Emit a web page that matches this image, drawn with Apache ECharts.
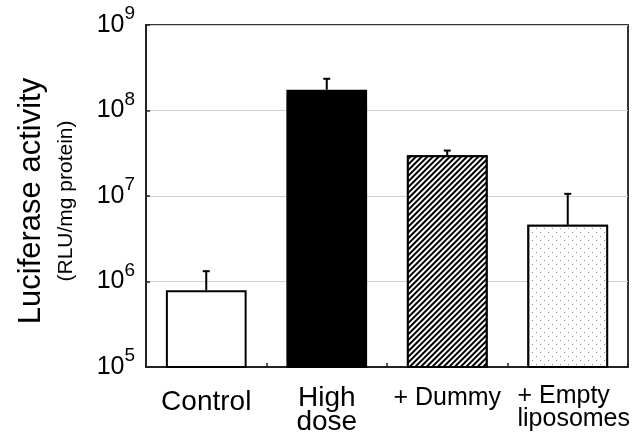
<!DOCTYPE html>
<html><head><meta charset="utf-8">
<script src="https://cdn.jsdelivr.net/npm/echarts@6/dist/echarts.min.js"></script>
<style>html,body{margin:0;padding:0;background:#fff}#c{width:643px;height:443px}</style>
</head><body><div id="c"></div>
<script>
// ---- data ----
const categories = ['Control', 'High\ndose', '+ Dummy', '+ Empty\nliposomes'];
const means = [7.9e5, 1.75e8, 3.0e7, 4.6e6];
const errorTops = [1.32e6, 2.35e8, 3.4e7, 1.06e7];
const yTickExponents = [5, 6, 7, 8, 9];
const yTitle = 'Luciferase activity';
const ySubtitle = '(RLU/mg protein)';

// ---- styles ----
const FONT = "'Liberation Sans', Arial, Helvetica, sans-serif";
const barStyles = [
  { color: '#fff', borderColor: '#000', borderWidth: 2 },
  { color: '#000', borderColor: '#000', borderWidth: 2 },
  { color: '#fff', borderColor: '#000', borderWidth: 2,
    decal: { symbol: 'rect', symbolSize: 1, color: '#000', backgroundColor: '#fff',
             dashArrayX: [1, 0], dashArrayY: [2, 2], rotation: -Math.PI / 4 } },
  { color: '#fff', borderColor: '#000', borderWidth: 2,
    decal: { symbol: 'rect', symbolSize: 1, color: '#8f8f8f', backgroundColor: '#fff',
             dashArrayX: [[1, 7], [0, 4, 1, 3]], dashArrayY: [1, 3], rotation: 0 } }
];
const labelStyleNames = [['c'], ['h1', 'h2'], ['d'], ['e1', 'e2']];

const chart = echarts.init(document.getElementById('c'), null, { renderer: 'canvas' });
chart.setOption({
  animation: false,
  backgroundColor: '#fff',
  textStyle: { fontFamily: FONT },
  grid: { left: 146, right: 15, top: 25, bottom: 76, show: true, borderColor: '#333', borderWidth: 2 },
  xAxis: {
    type: 'category',
    data: categories,
    axisLine: { lineStyle: { color: '#222', width: 2 } },
    axisTick: { show: true, inside: true, length: 4, lineStyle: { color: '#222', width: 1.5 } },
    axisLabel: {
      interval: 0, margin: 12, color: '#000', fontFamily: FONT,
      formatter: function (v, i) {
        const lines = v.split('\n');
        return lines.map((l, k) => '{' + labelStyleNames[i][k] + '|' + l + '}').join('\n');
      },
      rich: {
        c: { fontSize: 28, lineHeight: 46, fontFamily: FONT, color: '#000' },
        h1: { fontSize: 28, lineHeight: 39, fontFamily: FONT, color: '#000' },
        h2: { fontSize: 28, lineHeight: 9, fontFamily: FONT, color: '#000' },
        d: { fontSize: 25, lineHeight: 39, fontFamily: FONT, color: '#000' },
        e1: { fontSize: 25, lineHeight: 34, fontFamily: FONT, color: '#000', align: 'left', padding: [0, 0, 0, 12] },
        e2: { fontSize: 25, lineHeight: 13, fontFamily: FONT, color: '#000', align: 'left', padding: [0, 0, 0, 12] }
      }
    },
    splitLine: { show: false }
  },
  yAxis: {
    type: 'log',
    logBase: 10,
    min: Math.pow(10, yTickExponents[0]),
    max: Math.pow(10, yTickExponents[yTickExponents.length - 1]),
    splitNumber: 4,
    name: '{t|' + yTitle + '}\n{u|' + ySubtitle + '}',
    nameLocation: 'middle',
    nameGap: 63,
    nameTextStyle: {
      padding: [0, 10, 0, 0],
      rich: {
        t: { fontSize: 31, lineHeight: 36, fontFamily: FONT, color: '#000' },
        u: { fontSize: 21, lineHeight: 34, fontFamily: FONT, color: '#000' }
      }
    },
    axisLine: { show: true, lineStyle: { color: '#222', width: 2 } },
    axisTick: { show: true, inside: true, length: 4, lineStyle: { color: '#222', width: 1.5 } },
    splitLine: { show: true, lineStyle: { color: '#cfcfcf', width: 1 } },
    axisLabel: {
      margin: 11,
      formatter: function (v) {
        const e = Math.round(Math.log10(v));
        return '{b|10}{s|' + e + '}';
      },
      rich: {
        b: { fontSize: 25, lineHeight: 41, fontFamily: FONT, color: '#000' },
        s: { fontSize: 19, lineHeight: 19, verticalAlign: 'top', fontFamily: FONT, color: '#000' }
      }
    }
  },
  series: [
    {
      type: 'bar',
      barWidth: '67%',
      clip: true,
      data: means.map((v, i) => ({ value: v, itemStyle: barStyles[i] })),
      z: 2
    },
    {
      type: 'custom',
      z: 3,
      data: categories.map((c, i) => [i, means[i], errorTops[i]]),
      renderItem: function (params, api) {
        const base = api.coord([api.value(0), api.value(1)]);
        const top = api.coord([api.value(0), api.value(2)]);
        const half = 3.5;
        return {
          type: 'group',
          children: [
            { type: 'line', shape: { x1: base[0], y1: base[1], x2: top[0], y2: top[1] },
              style: { stroke: '#000', lineWidth: 2 } },
            { type: 'line', shape: { x1: top[0] - half, y1: top[1], x2: top[0] + half, y2: top[1] },
              style: { stroke: '#000', lineWidth: 2 } }
          ]
        };
      }
    }
  ]
});
</script>
</body></html>
